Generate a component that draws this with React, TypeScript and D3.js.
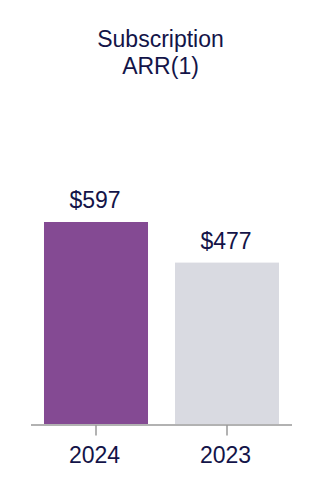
import React from "react";
import * as d3 from "d3";

const categories = ["2024", "2023"];
const values = [597, 477];
const valueLabels = ["$597", "$477"];
const titleLines = ["Subscription", "ARR(1)"];

export default function App() {
  const W = 322, H = 498;
  const x = d3.scaleBand<string>().domain(categories).range([30.5, 292.5]).paddingInner(0.206).paddingOuter(0.103);
  const y = d3.scaleLinear().domain([0, 597]).range([424, 222]);
  const colors = ["#844a93", "#d9dae1"];
  const textColor = "#131448";
  const font = "'Liberation Sans', Arial, sans-serif";
  return (
    <svg width={W} height={H} style={{ position: "absolute", left: 0, top: 0 }}>
      <rect width={W} height={H} fill="#fff" />
      {titleLines.map((t, i) => (
        <text key={t} x={160.5} y={46.5 + i * 27.5} textAnchor="middle" fontFamily={font} fontSize={23} fill={textColor}>{t}</text>
      ))}
      {categories.map((c, i) => (
        <g key={c}>
          <rect x={x(c)!} y={y(values[i])} width={x.bandwidth()} height={y(0) - y(values[i])} fill={colors[i]} />
          <text x={x(c)! + x.bandwidth() / 2 - 1} y={y(values[i]) - 14} textAnchor="middle" fontFamily={font} fontSize={23} fill={textColor}>{valueLabels[i]}</text>
          <line x1={x(c)! + x.bandwidth() / 2} x2={x(c)! + x.bandwidth() / 2} y1={425} y2={435.5} stroke="#999" strokeWidth={1.5} />
          <text x={x(c)! + x.bandwidth() / 2 - 1.5} y={462.5} textAnchor="middle" fontFamily={font} fontSize={23} fill={textColor}>{c}</text>
        </g>
      ))}
      <line x1={31} x2={292} y1={425} y2={425} stroke="#999" strokeWidth={1.5} />
    </svg>
  );
}
